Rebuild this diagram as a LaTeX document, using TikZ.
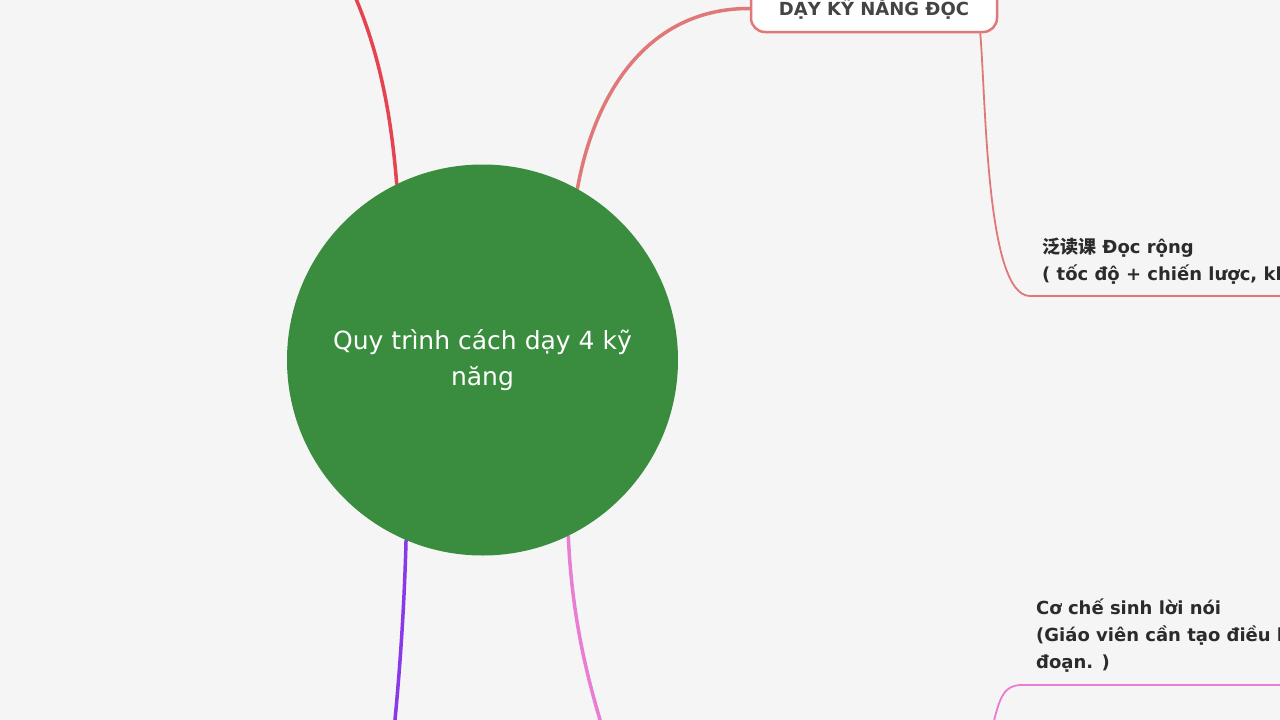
\documentclass[tikz,border=0pt]{standalone}
\usepackage{fontspec}
\setmainfont{DejaVu Sans}
\newfontfamily\cjk{Noto Sans CJK SC}
\usepackage{tikz}
\usetikzlibrary{backgrounds}
\definecolor{paper}{HTML}{F5F5F5}
\definecolor{rootgreen}{HTML}{3A8D3E}
\definecolor{talkred}{HTML}{E5434F}
\definecolor{readred}{HTML}{E07878}
\definecolor{writeviolet}{HTML}{8A38EA}
\definecolor{speakpink}{HTML}{E97CD3}
\definecolor{leafgray}{HTML}{2B2B2B}
\definecolor{boxgray}{HTML}{444444}
\tikzset{branch/.style={line width=3.5pt, line cap=round},
%thin lines under the leaf texts
twig/.style={line width=1.8pt},
leaf/.style={anchor=base west, inner sep=0pt, align=left, text=leafgray, font=\bfseries\fontsize{18}{27}\selectfont}}

\begin{document}
\begin{tikzpicture}[x=1pt,y=-1pt]
\useasboundingbox (0,0) rectangle (1280,720);
\clip (0,0) rectangle (1280,720);

% root
\node[circle, fill=rootgreen, minimum size=391pt, inner sep=0pt, text=white, align=center,
  font=\fontsize{25}{36.5}\selectfont] (root) at (482.5,360) {Quy trình cách dạy 4 kỹ\\năng};

% reading
\node[draw=readred, line width=2.5pt, fill=white, rounded corners=14pt, minimum width=246pt,
  minimum height=47pt, text height=13pt, text depth=0pt, text=boxgray,
  font=\bfseries\fontsize{18}{22}\selectfont] (read) at (874,8.5) {DẠY KỸ NĂNG ĐỌC};

%leaves (base is the last line)
\node[leaf] (wide) at (1042,280) {{\cjk 泛读课} Đọc rộng\\( tốc độ + chiến lược, kh};
\node[leaf] (speech) at (1036,668) {Cơ chế sinh lời nói\\(Giáo viên cần tạo điều k\\đoạn. )};

\coordinate (talk) at (350,-15);
\coordinate (write) at (394,730);
\coordinate (speak) at (603,730);
\coordinate (wideline) at (1030,296);
\coordinate (wideend) at (1290,296);
\coordinate (speechfoot) at (993,725);
\coordinate (speechline) at (1022,685);
\coordinate (speechend) at (1290,685);

\begin{scope}[on background layer]
\fill[paper] (0,0) rectangle (1280,720);
% main branches
\draw[branch,talkred] (root.116) .. controls (390,100) and (375,40) .. (talk);
\draw[branch,readred] (root.61) .. controls (595,90) and (650,8) .. (read.west);
\draw[branch,writeviolet] (root.247) .. controls (404,620) and (398,690) .. (write);
\draw[branch,speakpink] (root.-64) .. controls (572,620) and (588,680) .. (speak);
% twigs
\draw[twig,readred] ([xshift=-18pt]read.south east) .. controls (986,100) and (986,296) .. (wideline) -- (wideend);
\draw[twig,speakpink] (speechfoot) .. controls (1000,695) and (1005,685) .. (speechline) -- (speechend);
\end{scope}

\end{tikzpicture}
\end{document}
